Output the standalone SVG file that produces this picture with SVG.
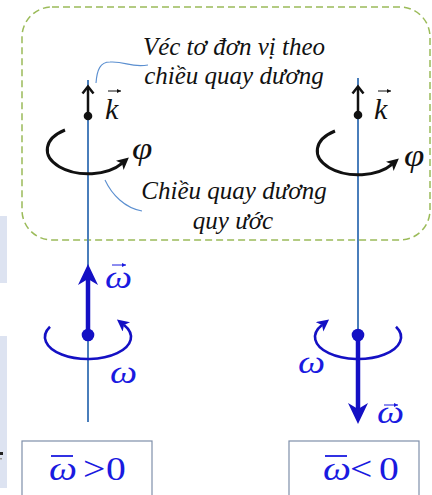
<svg xmlns="http://www.w3.org/2000/svg" width="432" height="495" viewBox="0 0 432 495">
<defs>
<marker id="hK" markerUnits="userSpaceOnUse" markerWidth="14" markerHeight="14" refX="3" refY="6" orient="auto"><path d="M0,0 L12,6 L0,12 L3,6 Z" fill="#111"/></marker>
<marker id="hW" markerUnits="userSpaceOnUse" markerWidth="14" markerHeight="14" refX="3" refY="6" orient="auto"><path d="M0,0 L12,6 L0,12 L3,6 Z" fill="#1410c4"/></marker>
<marker id="hvK" markerUnits="userSpaceOnUse" markerWidth="6" markerHeight="6" refX="4" refY="2" orient="auto"><path d="M0,0 L4,2 L0,4 Z" fill="#111"/></marker>
<marker id="hvB" markerUnits="userSpaceOnUse" markerWidth="6" markerHeight="6" refX="4" refY="2" orient="auto"><path d="M0,0 L4,2 L0,4 Z" fill="#1a1ae0"/></marker>
</defs>
<rect x="0" y="216" width="7" height="67" fill="#dde3f1"/>
<rect x="0" y="336" width="7" height="152" fill="#dde3f1"/>
<rect x="0" y="452" width="3" height="3" fill="#222"/>
<rect x="0" y="458" width="2" height="1.5" fill="#999"/>
<rect id="region" x="22" y="7" width="408" height="233" rx="30" ry="30" fill="none" stroke="#9bbb59" stroke-width="1.5" stroke-dasharray="7 4"/>
<g id="connectors" fill="none">
<path d="M88,80 V422" stroke="#4a7ebb" stroke-width="2"/>
<path d="M358,78 V335" stroke="#4a7ebb" stroke-width="2"/>
<path d="M96,83 C97,70 100,62 110,62 C126,61 130,68 148,65" stroke="#5b8fd0" stroke-width="1.1"/>
<path d="M105,180 C112,195 125,208 142,211" stroke="#5b8fd0" stroke-width="1.1"/>
</g>
<g id="caption-top">
<text x="234" y="55" font-family="Liberation Serif" font-style="italic" font-size="25" fill="#111" text-anchor="middle">Véc tơ đơn vị theo</text>
<text x="234" y="84" font-family="Liberation Serif" font-style="italic" font-size="25" fill="#111" text-anchor="middle">chiều quay dương</text>
</g>
<g id="caption-bottom">
<text x="234" y="199" font-family="Liberation Serif" font-style="italic" font-size="25" fill="#111" text-anchor="middle">Chiều quay dương</text>
<text x="233" y="229" font-family="Liberation Serif" font-style="italic" font-size="25" fill="#111" text-anchor="middle">quy ước</text>
</g>
<g id="left-k">
<path d="M88,116 V87" stroke="#111" stroke-width="2.5"/>
<polyline points="82.5,93.5 88,86.5 93.5,93.5" fill="none" stroke="#111" stroke-width="2.5"/>
<circle cx="88" cy="116" r="4.3" fill="#111"/>
<text x="105" y="119" font-family="Liberation Serif" font-style="italic" font-size="30" fill="#111">k</text>
<path d="M108,91 H121" stroke="#111" stroke-width="1" marker-end="url(#hvK)"/>
</g>
<g id="left-phi">
<path d="M65,130 A41,24 0 1 0 122,163.4" fill="none" stroke="#111" stroke-width="3" marker-end="url(#hK)"/>
<text transform="translate(132,159) scale(1.15,1)" font-family="Liberation Serif" font-style="italic" font-size="32" fill="#111">φ</text>
</g>
<g id="right-k">
<path d="M358,115 V87" stroke="#111" stroke-width="2.5"/>
<polyline points="352.5,93.5 358,86.5 363.5,93.5" fill="none" stroke="#111" stroke-width="2.5"/>
<circle cx="358" cy="115" r="4.3" fill="#111"/>
<text x="374" y="119" font-family="Liberation Serif" font-style="italic" font-size="30" fill="#111">k</text>
<path d="M378,91 H391" stroke="#111" stroke-width="1" marker-end="url(#hvK)"/>
</g>
<g id="right-phi">
<path d="M335,131 A41,24 0 1 0 392,164.4" fill="none" stroke="#111" stroke-width="3" marker-end="url(#hK)"/>
<text transform="translate(404,166) scale(1.15,1)" font-family="Liberation Serif" font-style="italic" font-size="32" fill="#111">φ</text>
</g>
<g id="left-omega">
<path d="M50,326.7 A43,22 0 1 0 124,325" fill="none" stroke="#1410c4" stroke-width="2.6" marker-end="url(#hW)"/>
<path d="M88,335 V279" stroke="#1410c4" stroke-width="4.5"/>
<polygon points="88,264 98,285 88,279 78,285" fill="#1410c4"/>
<circle cx="88" cy="335" r="6.3" fill="#1410c4"/>
<text transform="translate(105,288) scale(1.2,1)" font-family="Liberation Serif" font-style="italic" font-size="32" fill="#1a1ae0">ω</text>
<path d="M112,265 H126" stroke="#1a1ae0" stroke-width="1" marker-end="url(#hvB)"/>
<text transform="translate(110,383) scale(1.2,1)" font-family="Liberation Serif" font-style="italic" font-size="32" fill="#1a1ae0">ω</text>
</g>
<g id="right-omega">
<path d="M396,326.7 A43,22 0 1 1 322,325" fill="none" stroke="#1410c4" stroke-width="2.6" marker-end="url(#hW)"/>
<circle cx="358" cy="335" r="6.3" fill="#1410c4"/>
<path d="M358,335 V409" stroke="#1410c4" stroke-width="4.5"/>
<polygon points="358,424 368,403 358,409 348,403" fill="#1410c4"/>
<text transform="translate(298,373) scale(1.2,1)" font-family="Liberation Serif" font-style="italic" font-size="32" fill="#1a1ae0">ω</text>
<text transform="translate(377,423) scale(1.2,1)" font-family="Liberation Serif" font-style="italic" font-size="32" fill="#1a1ae0">ω</text>
<path d="M384,405 H398" stroke="#1a1ae0" stroke-width="1" marker-end="url(#hvB)"/>
</g>
<g id="box-left">
<rect x="22" y="441" width="130" height="60" fill="#fff" stroke="#7f8faa" stroke-width="1.2"/>
<text transform="translate(49,480) scale(1.2,1)" font-family="Liberation Serif" font-style="italic" font-size="33" fill="#1a1ae0">ω</text>
<path d="M51,456 H73" stroke="#1a1ae0" stroke-width="1.8"/>
<text transform="translate(83,480) scale(1.2,1)" font-family="Liberation Serif" font-size="33" fill="#1a1ae0">&gt;</text>
<text transform="translate(106,480) scale(1.2,1)" font-family="Liberation Serif" font-size="33" fill="#1a1ae0">0</text>
</g>
<g id="box-right">
<rect x="289" y="441" width="130" height="60" fill="#fff" stroke="#7f8faa" stroke-width="1.2"/>
<text transform="translate(323,480) scale(1.2,1)" font-family="Liberation Serif" font-style="italic" font-size="33" fill="#1a1ae0">ω</text>
<path d="M325,456 H347" stroke="#1a1ae0" stroke-width="1.8"/>
<text transform="translate(350,480) scale(1.2,1)" font-family="Liberation Serif" font-size="33" fill="#1a1ae0">&lt;</text>
<text transform="translate(379,480) scale(1.2,1)" font-family="Liberation Serif" font-size="33" fill="#1a1ae0">0</text>
</g>
</svg>
